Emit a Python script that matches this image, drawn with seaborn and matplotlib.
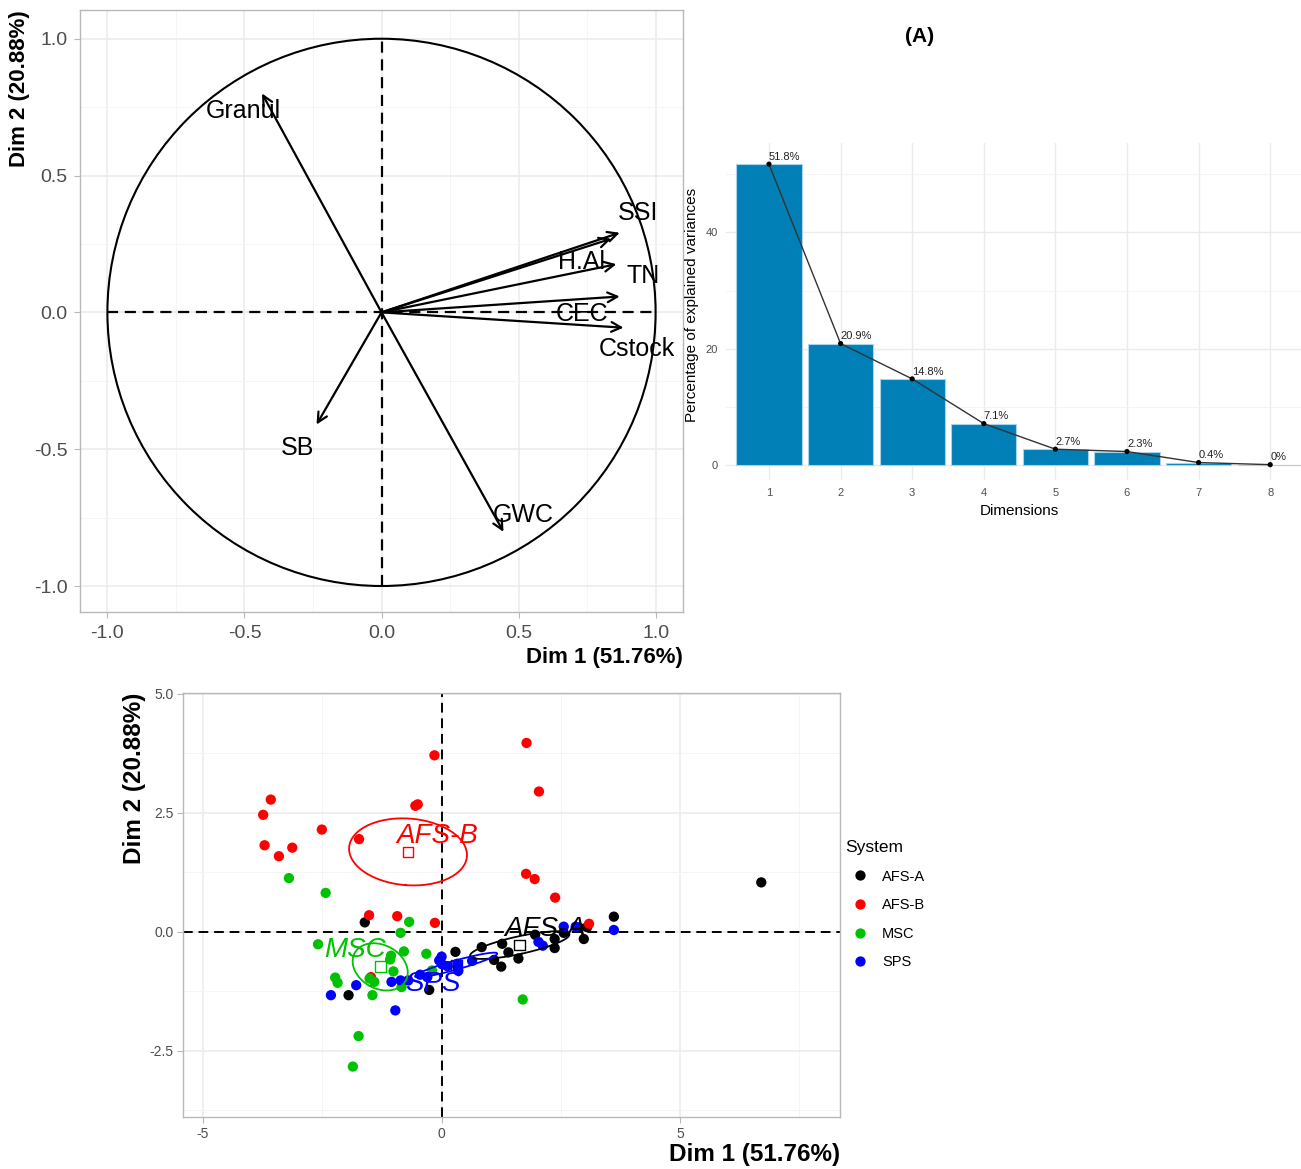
import numpy as np
import pandas as pd
import seaborn as sns
import matplotlib.pyplot as plt
from matplotlib.patches import Circle
from matplotlib.ticker import FormatStrFormatter

plt.rcParams['font.family'] = ['Liberation Sans', 'DejaVu Sans']
plt.rcParams['axes.unicode_minus'] = False

# ---- variables (correlation circle) ----
var_names = ["Granul", "SSI", "H.Al", "TN", "CEC", "Cstock", "SB", "GWC"]
var_dim1 = [-0.436, 0.869, 0.838, 0.857, 0.869, 0.883, -0.237, 0.445]
var_dim2 = [0.800, 0.291, 0.269, 0.176, 0.058, -0.056, -0.410, -0.802]
# where the (repelled) labels sit
var_label_x = [-0.504, 0.934, 0.730, 0.953, 0.730, 0.931, -0.307, 0.518]
var_label_y = [0.735, 0.362, 0.183, 0.132, -0.007, -0.135, -0.497, -0.739]

# ---- scree ----
dims = [1, 2, 3, 4, 5, 6, 7, 8]
eig_pct = [51.76, 20.88, 14.80, 7.10, 2.70, 2.30, 0.40, 0.04]

# ---- individuals ----
systems = ["AFS-A", "AFS-B", "MSC", "SPS"]
sys_colors = {"AFS-A": "#000000", "AFS-B": "#FF0000", "MSC": "#00C200", "SPS": "#0000FF"}

afsa_x = [-1.61, -1.95, -0.26, 0.29, 0.33, 0.84, 1.27, 1.10, 1.40, 1.61,
          1.25, 1.96, 2.37, 2.37, 2.56, 2.88, 2.98, 3.61, 6.70, 3.05]
afsa_y = [0.20, -1.33, -1.22, -0.42, -0.73, -0.32, -0.25, -0.59, -0.43, -0.56,
          -0.73, -0.06, -0.15, -0.34, -0.02, 0.09, -0.15, 0.32, 1.04, 0.10]

afsb_x = [1.78, -0.15, 2.04, -3.58, -3.74, -2.51, -1.73, -0.55, -0.50, -3.71,
          -3.13, -3.41, 1.77, 1.95, 2.38, -1.52, -0.93, -0.14, 3.09, -1.48]
afsb_y = [3.97, 3.71, 2.95, 2.78, 2.46, 2.15, 1.95, 2.65, 2.68, 1.82,
          1.77, 1.59, 1.22, 1.11, 0.72, 0.35, 0.33, 0.19, 0.17, -0.95]

msc_x = [-3.20, -2.43, -0.68, -0.86, -2.59, -0.79, -0.32, -1.06, -1.01, -2.23,
         -2.18, -1.51, -1.41, -0.84, -1.45, 1.70, -1.74, -1.86, -0.20, -1.08]
msc_y = [1.13, 0.82, 0.21, -0.02, -0.26, -0.41, -0.46, -0.50, -0.83, -0.96,
         -1.07, -0.98, -1.05, -1.16, -1.33, -1.42, -2.19, -2.83, -0.81, -0.58]

sps_x = [0.00, 0.01, 0.33, 0.64, 0.35, -0.86, -1.79, -2.32, -0.97, 2.03,
         2.12, 2.56, 2.81, 3.61, -0.05, 0.12, -0.45, -0.70, -0.30, -1.05]
sps_y = [-0.52, -0.68, -0.67, -0.61, -0.82, -1.02, -1.12, -1.33, -1.65, -0.21,
         -0.29, 0.11, 0.11, 0.04, -0.60, -0.72, -0.90, -1.02, -0.95, -1.05]

group_label_x = [2.18, -0.10, -1.82, -0.19]
group_label_y = [0.06, 2.02, -0.38, -1.09]

ind = pd.DataFrame({
    "Dim1": afsa_x + afsb_x + msc_x + sps_x,
    "Dim2": afsa_y + afsb_y + msc_y + sps_y,
    "System": ["AFS-A"] * 20 + ["AFS-B"] * 20 + ["MSC"] * 20 + ["SPS"] * 20,
})

W, H = 1301, 1169
fig = plt.figure(figsize=(W / 100, H / 100), dpi=100)


def px_axes(l, t, r, b):
    return fig.add_axes([l / W, 1 - b / H, (r - l) / W, (b - t) / H])


def bw_style(ax, labelsize, pad=4):
    ax.grid(which='major', color='#EBEBEB', lw=1.1)
    ax.grid(which='minor', color='#F4F4F4', lw=0.6)
    ax.set_axisbelow(True)
    for s in ax.spines.values():
        s.set_color('#B8B8B8')
        s.set_linewidth(1.0)
    ax.tick_params(which='major', length=4, width=0.8, color='#B8B8B8',
                   labelcolor='#4D4D4D', labelsize=labelsize, pad=pad)
    ax.tick_params(which='minor', length=0)


# ================= panel 1: correlation circle =================
ax1 = px_axes(80, 10, 683, 612)
ax1.set_xlim(-1.1, 1.1)
ax1.set_ylim(-1.095, 1.105)
ax1.set_xticks([-1, -0.5, 0, 0.5, 1])
ax1.set_xticks([-0.75, -0.25, 0.25, 0.75], minor=True)
ax1.set_yticks([-1, -0.5, 0, 0.5, 1])
ax1.set_yticks([-0.75, -0.25, 0.25, 0.75], minor=True)
ax1.xaxis.set_major_formatter(FormatStrFormatter('%.1f'))
ax1.yaxis.set_major_formatter(FormatStrFormatter('%.1f'))
bw_style(ax1, 14, pad=5)

ax1.add_patch(Circle((0, 0), 1, fill=False, color='black', lw=1.5))
ax1.plot([-1, 1], [0, 0], ls=(0, (5, 3)), color='black', lw=1.6)
ax1.plot([0, 0], [-1, 1], ls=(0, (5, 3)), color='black', lw=1.6)
for name, x, y, lx, ly in zip(var_names, var_dim1, var_dim2, var_label_x, var_label_y):
    ax1.annotate('', xy=(x, y), xytext=(0, 0),
                 arrowprops=dict(arrowstyle='->,head_length=0.7,head_width=0.35',
                                 lw=1.6, color='black', shrinkA=0, shrinkB=0))
    ax1.text(lx, ly, name, fontsize=18, ha='center', va='center')

fig.text(683 / W, 1 - 657 / H, "Dim 1 (51.76%)", ha='right', va='center',
         fontsize=16, fontweight='bold')
fig.text(20 / W, 1 - 10 / H, "Dim 2 (20.88%)", ha='center', va='top',
         rotation=90, fontsize=16, fontweight='bold')

# ================= panel 2: scree plot =================
ax2 = px_axes(726, 143, 1301, 480)
scree = pd.DataFrame({"dim": dims, "pct": eig_pct})
sns.barplot(data=scree, x="dim", y="pct", native_scale=True, width=0.91,
            color="#0080B6", saturation=1, edgecolor="#A9D3EA", linewidth=0.8, ax=ax2)
sns.lineplot(data=scree, x="dim", y="pct", color="#333333", lw=1.0, ax=ax2)
sns.scatterplot(data=scree, x="dim", y="pct", color="black", s=14, edgecolor='none', ax=ax2, zorder=4)
for d, v in zip(dims, eig_pct):
    ax2.text(d, v + 0.4, f"{round(v, 1):g}%", ha='left', va='bottom',
             fontsize=8, color='#222222')
ax2.set_xlim(0.4, 8.43)
ax2.set_ylim(-2.6, 55.4)
ax2.set_xticks(dims)
ax2.set_yticks([0, 20, 40])
ax2.set_yticks([10, 30, 50], minor=True)
ax2.grid(which='major', color='#EBEBEB', lw=1.0)
ax2.grid(which='minor', axis='y', color='#F2F2F2', lw=0.6)
ax2.set_axisbelow(True)
for s in ax2.spines.values():
    s.set_visible(False)
ax2.tick_params(which='both', length=0, labelcolor='#4D4D4D', labelsize=8, pad=6)
ax2.set_xlabel("")
ax2.set_ylabel("")
fig.text(1019 / W, 1 - 511 / H, "Dimensions", ha='center', va='center', fontsize=11)
fig.text(692 / W, 1 - 305 / H, "Percentage of explained variances", ha='center',
         va='center', rotation=90, fontsize=11)
fig.text(920 / W, 1 - 37 / H, "(A)", ha='center', va='center', fontsize=15,
         fontweight='bold')

# ================= panel 3: individuals =================
ax3 = px_axes(183, 693, 840, 1117)
ax3.axhline(0, ls=(0, (5, 3)), color='black', lw=1.4, zorder=2)
ax3.axvline(0, ls=(0, (5, 3)), color='black', lw=1.4, zorder=2)
sns.scatterplot(data=ind, x="Dim1", y="Dim2", hue="System", hue_order=systems,
                palette=sys_colors, s=55, edgecolor='none', ax=ax3, zorder=3)

chi = np.sqrt(-2 * np.log(0.05))  # sqrt(qchisq(0.95, 2))
t = np.linspace(0, 2 * np.pi, 200)
for sysname, lx, ly in zip(systems, group_label_x, group_label_y):
    sub = ind[ind["System"] == sysname]
    pts = sub[["Dim1", "Dim2"]].to_numpy()
    ctr = pts.mean(axis=0)
    cov = np.cov(pts.T) / len(pts)
    vals, vecs = np.linalg.eigh(cov)
    circ = np.vstack([np.cos(t), np.sin(t)])
    ell = (vecs @ np.diag(np.sqrt(vals)) @ circ) * chi
    ax3.plot(ell[0] + ctr[0], ell[1] + ctr[1], color=sys_colors[sysname], lw=1.3, zorder=4)
    ax3.scatter([ctr[0]], [ctr[1]], marker='s', s=60, facecolor='none',
                edgecolor=sys_colors[sysname], lw=1.0, zorder=5)
    ax3.text(lx, ly, sysname, color=sys_colors[sysname], fontsize=20,
             style='italic', ha='center', va='center', zorder=6)

ax3.set_xlim(-5.42, 8.35)
ax3.set_ylim(-3.89, 5.02)
ax3.set_xticks([-5, 0, 5])
ax3.set_xticks([-2.5, 2.5, 7.5], minor=True)
ax3.set_yticks([-2.5, 0, 2.5, 5.0])
ax3.set_yticks([-3.75, -1.25, 1.25, 3.75], minor=True)
ax3.yaxis.set_major_formatter(FormatStrFormatter('%.1f'))
bw_style(ax3, 10, pad=3)
ax3.set_xlabel("")
ax3.set_ylabel("")

handles, labels = ax3.get_legend_handles_labels()
ax3.legend(handles, labels, loc='upper left', bbox_to_anchor=(845 / W, 1 - 840 / H),
           bbox_transform=fig.transFigure, frameon=False, title="System",
           title_fontsize=12.5, fontsize=10.5, alignment='left',
           handletextpad=0.55, labelspacing=1.0, borderpad=0, borderaxespad=0)

fig.text(840 / W, 1 - 1155 / H, "Dim 1 (51.76%)", ha='right', va='center',
         fontsize=17.5, fontweight='bold')
fig.text(135 / W, 1 - 693 / H, "Dim 2 (20.88%)", ha='center', va='top',
         rotation=90, fontsize=17.5, fontweight='bold')

fig.savefig("out.png", dpi=100)
